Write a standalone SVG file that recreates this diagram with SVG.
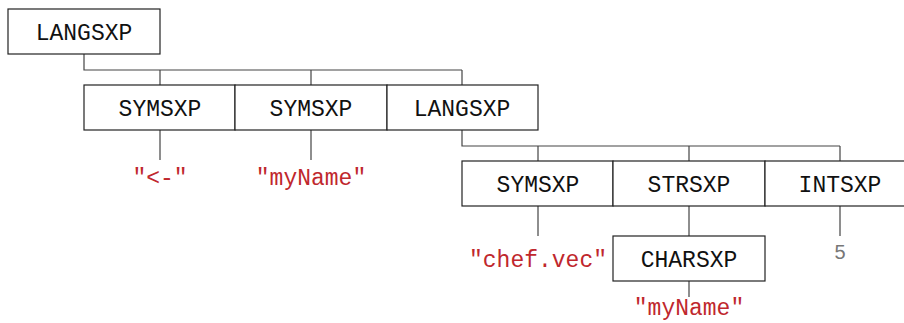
<svg xmlns="http://www.w3.org/2000/svg" width="904" height="323" viewBox="0 0 904 323">
<style>
.box{fill:#fff;stroke:#222;stroke-width:1.2}
.t{font-family:"Liberation Mono","DejaVu Sans Mono",monospace;font-size:23px;fill:#111;text-anchor:middle}
.s{font-family:"Liberation Mono","DejaVu Sans Mono",monospace;font-size:23px;fill:#c0272d;text-anchor:middle}
.n{font-family:"Liberation Sans","DejaVu Sans",sans-serif;font-size:20px;fill:#777;text-anchor:middle}
.c{fill:none;stroke:#444;stroke-width:1.2}
</style>
<rect width="904" height="323" fill="#fff"/>
<g id="connectors">
<path class="c" d="M84 54V70H462M160 70V85M311 70V85M462 70V85"/>
<path class="c" d="M160 130V160M311 130V160"/>
<path class="c" d="M462 130V146H840M538 146V161M689 146V161M840 146V161"/>
<path class="c" d="M538 206V236M689 206V236M840 206V236M689 281V297"/>
</g>
<g id="n1"><rect class="box" x="8" y="9" width="152" height="45"/><text class="t" x="84" y="40">LANGSXP</text></g>
<g id="n2"><rect class="box" x="84" y="85" width="151" height="45"/><text class="t" x="160" y="116">SYMSXP</text></g>
<g id="n3"><rect class="box" x="235" y="85" width="152" height="45"/><text class="t" x="311" y="116">SYMSXP</text></g>
<g id="n4"><rect class="box" x="387" y="85" width="151" height="45"/><text class="t" x="462" y="116">LANGSXP</text></g>
<g id="n5"><text class="s" x="160" y="185">"&lt;-"</text></g>
<g id="n6"><text class="s" x="311" y="185">"myName"</text></g>
<g id="n7"><rect class="box" x="462" y="161" width="151" height="45"/><text class="t" x="538" y="192">SYMSXP</text></g>
<g id="n8"><rect class="box" x="613" y="161" width="152" height="45"/><text class="t" x="689" y="192">STRSXP</text></g>
<g id="n9"><rect class="box" x="765" y="161" width="151" height="45"/><text class="t" x="840" y="192">INTSXP</text></g>
<g id="n10"><text class="s" x="538" y="267">"chef.vec"</text></g>
<g id="n11"><rect class="box" x="613" y="236" width="152" height="45"/><text class="t" x="689" y="267">CHARSXP</text></g>
<g id="n12"><text class="n" x="840" y="259">5</text></g>
<g id="n13"><text class="s" x="689" y="315">"myName"</text></g>
</svg>
